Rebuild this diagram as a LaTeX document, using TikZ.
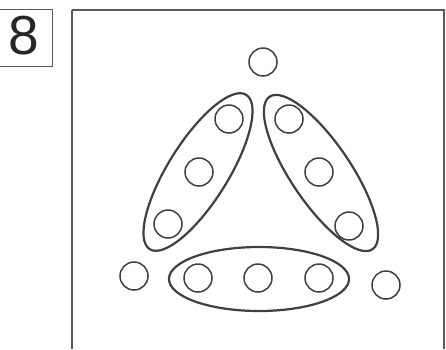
\documentclass[tikz,border=0pt]{standalone}
\usepackage{fontspec}
\setmainfont{Liberation Sans}
\begin{document}
\begin{tikzpicture}[x=1pt,y=-1pt,
  dot/.style={circle,draw=black!75,line width=1.5pt,minimum size=28pt,inner sep=0pt},
  grp/.style={draw=black!75,line width=2.2pt},
  frame/.style={draw=black!65,line width=1.4pt}]
\useasboundingbox (0,0) rectangle (446,349);
\fill[white] (0,0) rectangle (446,349);
% label box
\draw[frame,line width=1pt] (0,9) -- (52,9) -- (52,66) -- (0,66);
\node[font=\fontsize{55}{55}\selectfont,text=black!85,inner sep=0pt] (lbl) at (24,36) {8};
% big frame
\draw[frame] (444,349) -- (444,10) -- (72,10);
\draw[frame,line width=2.8pt] (72,10) -- (72,349);
% circles
\node[dot] (t) at (263,62) {};
\node[dot] (l1) at (229,119) {};
\node[dot] (l2) at (199,172) {};
\node[dot] (l3) at (168,224) {};
\node[dot] (r1) at (289,119) {};
\node[dot] (r2) at (319,172) {};
\node[dot] (r3) at (349,226) {};
\node[dot] (b1) at (198,278) {};
\node[dot] (b2) at (258,278) {};
\node[dot] (b3) at (319,278) {};
\node[dot] (ol) at (134,276) {};
\node[dot] (or) at (386,285) {};
% group ellipses
\draw[grp] (259,279) ellipse [x radius=90, y radius=32];
\draw[grp] (198,172) ellipse [x radius=91, y radius=30, rotate=58];
\draw[grp] (321,173) ellipse [x radius=92, y radius=30, rotate=-56];
\end{tikzpicture}
\end{document}
